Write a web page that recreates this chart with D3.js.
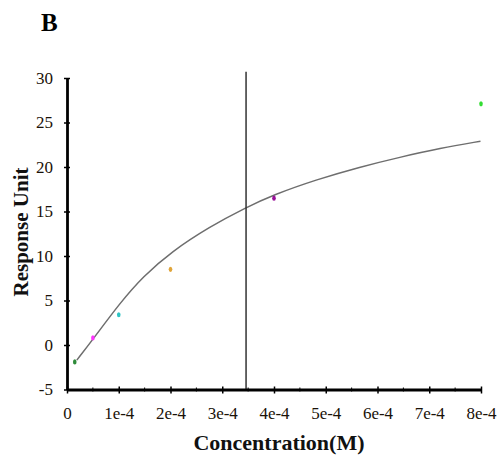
<!DOCTYPE html>
<html>
<head>
<meta charset="utf-8">
<script src="https://cdn.jsdelivr.net/npm/d3@7"></script>
<style>
  html, body { margin: 0; padding: 0; background: #ffffff; }
  svg { display: block; }
  svg text { font-family: "Liberation Serif", "Times New Roman", serif; }
</style>
</head>
<body>
<div id="chart"></div>
<script>
// measured points (concentration in M, response in RU)
const concentrations = [0.15e-4, 0.5e-4, 1e-4, 2e-4, 4e-4, 8e-4];
const responses = [-1.9, 0.8, 3.4, 8.5, 16.5, 27.1];
const pointColors = ["#2e8b3a", "#ff33ff", "#2ec4c4", "#e0a53a", "#99109a", "#33dd33"];

// fitted curve
const fitX = [0.19e-4, 0.51e-4, 1.02e-4, 1.47e-4, 2.02e-4, 2.76e-4, 3.44e-4, 4.0e-4, 4.83e-4, 5.66e-4, 6.43e-4, 7.21e-4, 7.99e-4];
const fitY = [-1.7, 0.7, 4.7, 7.7, 10.5, 13.3, 15.4, 16.9, 18.6, 20.0, 21.1, 22.1, 22.9];

// vertical marker (KD)
const kd = 3.46e-4;
const kdTop = 30.7;

const xTicks = [0, 1e-4, 2e-4, 3e-4, 4e-4, 5e-4, 6e-4, 7e-4, 8e-4];
const xTickLabels = ["0", "1e-4", "2e-4", "3e-4", "4e-4", "5e-4", "6e-4", "7e-4", "8e-4"];
const xMinorTicks = [0.5e-4, 1.5e-4, 2.5e-4, 3.5e-4, 4.5e-4, 5.5e-4, 6.5e-4, 7.5e-4];
const yTicks = [-5, 0, 5, 10, 15, 20, 25, 30];
const yTickLabels = ["-5", "0", "5", "10", "15", "20", "25", "30"];

const width = 503, height = 456;

const svg = d3.select("#chart").append("svg")
    .attr("width", width)
    .attr("height", height);

const x = d3.scaleLinear().domain([0, 8e-4]).range([67, 481]);
const y = d3.scaleLinear().domain([-5, 30]).range([389.5, 78]);

// panel letter
svg.append("text")
    .attr("x", 41).attr("y", 31)
    .attr("font-size", 25).attr("font-weight", "bold")
    .text("B");

// fitted curve
const line = d3.line()
    .x(d => x(d[0]))
    .y(d => y(d[1]))
    .curve(d3.curveBasis);

svg.append("path")
    .datum(fitX.map((v, i) => [v, fitY[i]]))
    .attr("d", line)
    .attr("fill", "none")
    .attr("stroke", "#6e6e6e")
    .attr("stroke-width", 1.5);

// KD line
svg.append("line")
    .attr("x1", x(kd)).attr("x2", x(kd))
    .attr("y1", y(kdTop)).attr("y2", y(-5))
    .attr("stroke", "#333333")
    .attr("stroke-width", 1.5);

// points
svg.selectAll(".pt")
    .data(concentrations)
    .enter().append("ellipse")
    .attr("class", "pt")
    .attr("cx", d => x(d))
    .attr("cy", (d, i) => y(responses[i]))
    .attr("rx", 1.8).attr("ry", 2.6)
    .attr("fill", (d, i) => pointColors[i]);

// y axis
const yAxis = svg.append("g")
    .attr("transform", `translate(${x(0)},0)`)
    .call(d3.axisLeft(y).tickValues(yTicks).tickFormat((d, i) => yTickLabels[i]).tickSize(0).tickPadding(14));
yAxis.select(".domain").attr("stroke", "#000").attr("stroke-width", 2.8);
yAxis.selectAll(".tick line").attr("x1", -3).attr("x2", 3).attr("stroke", "#000").attr("stroke-width", 1.5);
yAxis.selectAll(".tick text")
    .style("font-family", "'Liberation Serif', serif")
    .style("font-size", "17px")
    .attr("fill", "#1a1208");

// x axis
const xAxis = svg.append("g")
    .attr("transform", `translate(0,${y(-5)})`)
    .call(d3.axisBottom(x).tickValues(xTicks).tickFormat((d, i) => xTickLabels[i]).tickSize(0).tickPadding(17));
xAxis.select(".domain").attr("stroke", "#000").attr("stroke-width", 2.8);
xAxis.selectAll(".tick line").attr("y1", -3).attr("y2", 4).attr("stroke", "#000").attr("stroke-width", 1.5);
xAxis.selectAll(".tick text")
    .style("font-family", "'Liberation Serif', serif")
    .style("font-size", "17px")
    .attr("fill", "#1a1208");

xAxis.selectAll(".minor")
    .data(xMinorTicks)
    .enter().append("line")
    .attr("class", "minor")
    .attr("x1", d => x(d)).attr("x2", d => x(d))
    .attr("y1", -2).attr("y2", 2)
    .attr("stroke", "#000")
    .attr("stroke-width", 1);

// axis titles
svg.append("text")
    .attr("transform", "translate(28,232) rotate(-90)")
    .attr("text-anchor", "middle")
    .attr("font-size", 21).attr("font-weight", "bold")
    .attr("fill", "#111")
    .text("Response Unit");

svg.append("text")
    .attr("x", 279).attr("y", 450)
    .attr("text-anchor", "middle")
    .attr("font-size", 22).attr("font-weight", "bold")
    .attr("fill", "#111")
    .text("Concentration(M)");
</script>
</body>
</html>
